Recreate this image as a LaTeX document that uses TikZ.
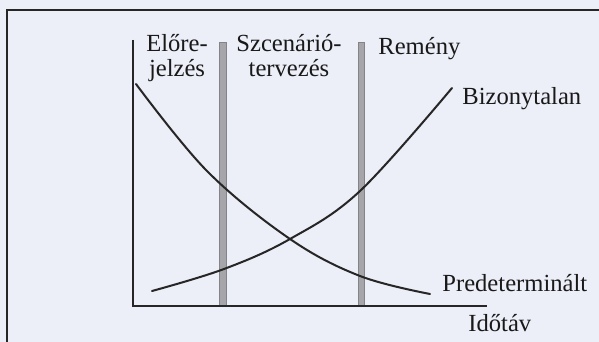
\documentclass[tikz,border=0pt]{standalone}
\usepackage{fontspec}
\setmainfont{Liberation Serif}
\usepackage{tikz}
\usetikzlibrary{positioning, calc}
\definecolor{background}{RGB}{236,238,248}
\definecolor{barcolor}{RGB}{165,165,170}

\begin{document}
\begin{tikzpicture}[
        x=0.5pt, y=0.5pt,
        font=\fontsize{12.3}{12.5}\selectfont,
        label/.style={inner sep=0pt, text=black!90},
        axis/.style={line width=1pt, black!85},
        frame/.style={line width=1pt, black!85},
        curve/.style={line width=1pt, black!85, line cap=round},
        bar/.style={fill=barcolor, draw=barcolor!80!black, line width=0.3pt}
    ]

    \useasboundingbox (0,0) rectangle (599,342);
    \clip (0,0) rectangle (599,342);
    \fill[background] (0,0) rectangle (599,342);

    \draw [frame] (620,332) -- (7,332) -- (7,-20);

    \coordinate (origin) at (133,36);
    \coordinate (ytop) at (133,302);
    \coordinate (xend) at (487,36);

    \fill [bar] (219,36) rectangle (226,300);
    \fill [bar] (358,36) rectangle (364,300);

    \draw [axis] (ytop) -- (origin) -- (xend);

    \draw [curve] plot [smooth, tension=0.6] coordinates {(136,258) (207,171) (290,103) (360,66) (430,48)};
    \draw [curve] plot [smooth, tension=0.6] coordinates {(152,51) (224,73) (290,103) (360,151) (452,254)};

    \node (forecast) [label, anchor=base, align=center] at (177,265) {Előre-\\jelzés};
    \node (scenario) [label, anchor=base, align=center] at (289,265) {Szcenárió-\\tervezés};
    \node (hope) [label, anchor=base west] at (378,287) {Remény};
    \node (uncertain) [label, anchor=base west] at (462,237) {Bizonytalan};
    \node (predet) [label, anchor=base west] at (442,50) {Predeterminált};
    \node (horizon) [label, anchor=base west] at (468,10) {Időtáv};

\end{tikzpicture}
\end{document}
